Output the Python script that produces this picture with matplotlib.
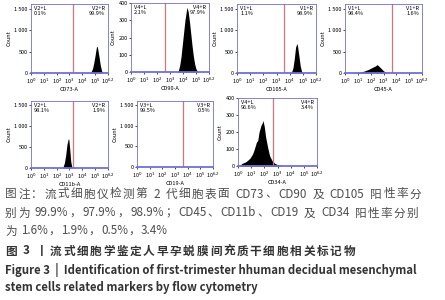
import re
import matplotlib
matplotlib.use("Agg")
import matplotlib.pyplot as plt

plt.rcParams['font.family'] = ['Noto Sans CJK SC', 'DejaVu Sans']

# marker names shown under each histogram
markers = ["CD73-A", "CD90-A", "CD105-A", "CD45-A", "CD11b-A", "CD19-A", "CD34-A"]
gate_names = ["V2", "V4", "V1", "V1", "V2", "V3", "V4"]
pct_left = ["0.1%", "2.1%", "1.1%", "98.4%", "98.1%", "99.5%", "96.6%"]
pct_right = ["99.9%", "97.9%", "98.9%", "1.6%", "1.9%", "0.5%", "3.4%"]
gate_pos = [3.3, 2.6, 3.6, 3.7, 3.3, 3.6, 2.65]      # log10 fluorescence of the gate
ymax = [1500, 400, 1500, 1500, 1500, 1500, 400]

# histogram outlines (log10 intensity, count)
cd73_x = [4.45, 4.6, 4.7, 4.8, 4.9, 5.0, 5.05, 5.1, 5.15, 5.2, 5.3, 5.4, 5.5, 5.6]
cd73_y = [0, 10, 40, 110, 250, 420, 520, 600, 630, 560, 380, 180, 50, 0]
cd90_x = [3.55, 3.65, 3.75, 3.85, 3.95, 4.05, 4.15, 4.25, 4.3, 4.4, 4.5, 4.6, 4.7, 4.8, 4.9, 5.0, 5.1, 5.2]
cd90_y = [0, 10, 40, 90, 160, 230, 300, 350, 375, 350, 290, 220, 150, 90, 45, 18, 5, 0]
cd105_x = [4.0, 4.15, 4.25, 4.35, 4.45, 4.55, 4.6, 4.7, 4.8, 4.9, 5.05]
cd105_y = [0, 30, 120, 330, 600, 690, 620, 400, 170, 40, 0]
cd45_x = [0.3, 0.6, 0.9, 1.2, 1.5, 1.8, 2.0, 2.2, 2.4, 2.5, 2.6, 2.8, 3.0, 3.2, 3.4]
cd45_y = [0, 5, 10, 20, 45, 80, 110, 140, 170, 195, 170, 110, 50, 15, 0]
cd11b_x = [2.4, 2.5, 2.6, 2.7, 2.8, 2.9, 2.95, 3.0, 3.1, 3.2]
cd11b_y = [0, 30, 120, 300, 560, 700, 680, 520, 150, 0]
cd19_x = [0.0, 6.0]
cd19_y = [0, 0]
cd34_x = [0.1, 0.3, 0.6, 0.9, 1.1, 1.2, 1.4, 1.5, 1.6, 1.75, 1.85, 1.9, 2.0, 2.1, 2.25, 2.4, 2.6, 2.8, 3.0, 3.3]
cd34_y = [0, 15, 25, 45, 70, 90, 140, 150, 200, 240, 255, 268, 230, 170, 110, 60, 30, 15, 8, 0]
hist_x = [cd73_x, cd90_x, cd105_x, cd45_x, cd11b_x, cd19_x, cd34_x]
hist_y = [cd73_y, cd90_y, cd105_y, cd45_y, cd11b_y, cd19_y, cd34_y]

xtick_labels = ["10$^0$", "10$^1$", "10$^2$", "10$^3$", "10$^4$", "10$^5$", "10$^{6.2}$"]

caption_lines = ["图注：流式细胞仪检测第 2 代细胞表面 CD73、CD90 及 CD105 阳性率分",
                 "别为 99.9%，97.9%，98.9%；CD45、CD11b、CD19 及 CD34 阳性率分别",
                 "为 1.6%，1.9%，0.5%，3.4%"]
title_cn = "图 3 丨流式细胞学鉴定人早孕蜕膜间充质干细胞相关标记物"
title_en = ["Figure 3  |  Identification of first-trimester hhuman decidual mesenchymal",
            "stem cells related markers by flow cytometry"]

# panel boxes in pixels: left, right, top, bottom
boxes = [(31, 108, 4, 73), (131, 209, 3, 72), (237, 316, 4, 73), (345, 422, 4, 73),
         (31, 108, 101, 168), (137, 213, 101, 167), (238, 317, 98, 166)]

W, H = 445, 300
fig = plt.figure(figsize=(W / 100, H / 100), dpi=100)
blue = "#6f6fd8"

for i in range(7):
    l, r, t, b = boxes[i]
    ax = fig.add_axes([l / W, 1 - b / H, (r - l) / W, (b - t) / H])
    ax.fill_between(hist_x[i], hist_y[i], color="black", lw=0)
    ax.axvline(gate_pos[i], color="#d9707e", lw=0.9)
    ax.set_xlim(0, 6)
    top = ymax[i] * 1.07 if ymax[i] == 1500 else ymax[i]
    ax.set_ylim(0, top)
    if ymax[i] == 1500:
        ax.set_yticks([0, 500, 1000, 1500])
        ax.set_yticklabels(["0", "500", "1 000", "1 500"])
    else:
        ax.set_yticks([0, 100, 200, 300, 400])
    ax.set_xticks(range(7))
    ax.set_xticklabels(xtick_labels)
    ax.tick_params(labelsize=4, length=1.5, width=0.5, pad=1)
    for s in ax.spines.values():
        s.set_color(blue)
        s.set_linewidth(0.6)
    ax.spines['bottom'].set_linewidth(1.3)
    ax.set_ylabel("Count", fontsize=4, labelpad=2)
    ax.set_xlabel(markers[i], fontsize=4, labelpad=1)
    ax.text(0.04, 0.97, gate_names[i] + "+L\n" + pct_left[i], transform=ax.transAxes,
            fontsize=4, va="top", ha="left", linespacing=1.1)
    ax.text(0.96, 0.97, gate_names[i] + "+R\n" + pct_right[i], transform=ax.transAxes,
            fontsize=4, va="top", ha="right", multialignment="right", linespacing=1.1)

renderer = fig.canvas.get_renderer()


def put_line(s, x0, y, x1=None, **kw):
    # justified line: every CJK sign, latin run and space is one piece
    if x1 is None:
        fig.text(x0 / W, 1 - y / H, s, va="center", **kw)
        return
    pieces = re.findall(r"[A-Za-z0-9.%]+|\s|\S", s)
    space_w = kw["fontsize"] * 100 / 72 * 0.25
    widths = []
    texts = []
    for p in pieces:
        if p.isspace():
            texts.append(None)
            widths.append(space_w)
        else:
            t = fig.text(0, 1 - y / H, p, va="center", **kw)
            texts.append(t)
            widths.append(t.get_window_extent(renderer).width)
    gap = (x1 - x0 - sum(widths)) / (len(pieces) - 1)
    x = x0
    for t, w in zip(texts, widths):
        if t is not None:
            t.set_x(x / W)
        x += w + gap


grey = "#4d4d4d"
put_line(caption_lines[0], 5, 194, 421, fontsize=8.4, color=grey)
put_line(caption_lines[1], 5, 213, 418, fontsize=8.4, color=grey)
put_line(caption_lines[2], 5, 231, 168, fontsize=8.4, color=grey)
put_line(title_cn, 5, 251, 355, fontsize=8.4, color="#333333", fontweight="bold")
put_line(title_en[0], 5, 270, fontsize=8.2, color="#333333", fontweight="bold")
put_line(title_en[1], 5, 287, fontsize=8.2, color="#333333", fontweight="bold")

fig.savefig("out.png", dpi=100)
